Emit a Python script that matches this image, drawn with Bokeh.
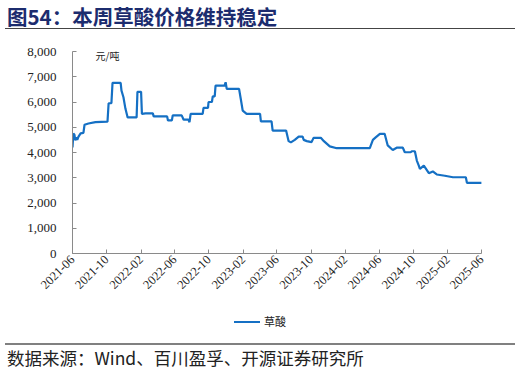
import pandas as pd
from bokeh.plotting import figure
from bokeh.layouts import column
from bokeh.models import (FixedTicker, DatetimeTickFormatter, NumeralTickFormatter,
                          Range1d, ColumnDataSource, Div, AllLabels)
from bokeh.core.properties import value
from bokeh.embed import file_html
from bokeh.resources import INLINE
import math

# ---------------- data ----------------
dates = [
    "2021-06-01", "2021-06-04", "2021-06-08", "2021-06-11", "2021-06-15", "2021-06-18",
    "2021-06-22", "2021-06-30", "2021-07-10", "2021-07-14", "2021-07-28", "2021-08-22",
    "2021-10-04", "2021-10-08", "2021-10-18", "2021-10-22", "2021-11-20", "2021-11-23",
    "2021-11-30", "2021-12-07", "2021-12-15", "2022-01-16", "2022-01-19", "2022-02-01",
    "2022-02-04", "2022-02-17", "2022-03-15", "2022-03-18", "2022-05-05", "2022-05-08",
    "2022-05-22", "2022-05-25", "2022-06-26", "2022-07-03", "2022-07-20", "2022-07-24",
    "2022-07-28", "2022-09-09", "2022-09-12", "2022-09-28", "2022-09-30", "2022-10-12",
    "2022-10-15", "2022-10-22", "2022-10-25", "2022-11-26", "2022-11-30", "2022-12-04",
    "2023-01-17", "2023-01-23", "2023-01-30", "2023-02-13", "2023-04-02", "2023-04-05",
    "2023-05-13", "2023-05-17", "2023-07-04", "2023-07-13", "2023-07-21", "2023-08-04",
    "2023-08-18", "2023-09-01", "2023-09-05", "2023-09-16", "2023-10-03", "2023-10-10",
    "2023-11-05", "2023-11-16", "2023-12-07", "2024-01-01", "2024-04-28", "2024-05-09",
    "2024-05-19", "2024-06-03", "2024-06-20", "2024-07-01", "2024-07-19", "2024-08-02",
    "2024-08-24", "2024-08-31", "2024-09-21", "2024-09-25", "2024-10-06", "2024-10-13",
    "2024-10-20", "2024-10-24", "2024-11-07", "2024-11-25", "2024-12-09", "2024-12-23",
    "2025-01-21", "2025-02-19", "2025-04-06", "2025-04-10", "2025-06-02",
]
prices = [
    4200, 4750, 4700, 4480, 4600, 4500,
    4620, 4760, 4780, 5100, 5150, 5200,
    5220, 5950, 5950, 6760, 6760, 6450,
    6190, 5740, 5390, 5390, 6400, 6400,
    5530, 5550, 5550, 5430, 5430, 5270,
    5270, 5470, 5470, 5300, 5300, 5200,
    5530, 5530, 5770, 5770, 6000, 6000,
    6220, 6220, 6650, 6650, 6780, 6520,
    6520, 6130, 5660, 5530, 5530, 5230,
    5230, 4870, 4870, 4450, 4400, 4500,
    4630, 4630, 4500, 4450, 4410, 4580,
    4580, 4450, 4240, 4170, 4170, 4500,
    4600, 4740, 4740, 4280, 4100, 4190,
    4190, 4010, 4010, 4050, 4050, 3680,
    3480, 3350, 3480, 3180, 3250, 3130,
    3080, 3020, 3020, 2800, 2800,
]
x_tick_labels = ["2021-06", "2021-10", "2022-02", "2022-06", "2022-10", "2023-02", "2023-06",
                 "2023-10", "2024-02", "2024-06", "2024-10", "2025-02", "2025-06"]
y_ticks = [0, 1000, 2000, 3000, 4000, 5000, 6000, 7000, 8000]
series_name = "草酸"
title_text = "图54：本周草酸价格维持稳定"
unit_text = "元/吨"
source_text = "数据来源：Wind、百川盈孚、开源证券研究所"

# ---------------- layout ----------------
W = 521
LINE_COLOR = "#1570C4"
TITLE_H = 32
FIG_TOP = 32
FIG_BOTTOM = 305
FIG_H = FIG_BOTTOM - FIG_TOP
FOOT_H = 374 - FIG_BOTTOM
FRAME_L, FRAME_R, FRAME_T, FRAME_B = 72, 481, 51, 253


def to_ms(s):
    return pd.Timestamp(s).value / 1e6


x_start = to_ms(x_tick_labels[0] + "-01")
x_end = to_ms(x_tick_labels[-1] + "-01")
src = ColumnDataSource(dict(x=[pd.Timestamp(d) for d in dates], y=prices))

p = figure(width=W, height=FIG_H, output_backend="svg", toolbar_location=None,
           x_axis_type="datetime",
           min_border_left=FRAME_L, min_border_right=W - FRAME_R,
           min_border_top=FRAME_T - FIG_TOP, min_border_bottom=FIG_BOTTOM - FRAME_B)
p.x_range = Range1d(x_start, x_end)
p.y_range = Range1d(y_ticks[0], y_ticks[-1])
p.outline_line_color = None
p.xgrid.visible = False
p.ygrid.visible = False
p.background_fill_color = "white"
p.border_fill_color = "white"

r = p.line("x", "y", source=src, line_color=LINE_COLOR, line_width=2.2)

# unit text anchored at the top-left corner of the axes, shifted in pixels
p.text(x=[x_start], y=[y_ticks[-1]], text=[unit_text], x_offset=23, y_offset=4,
       text_font=value("Noto Sans CJK SC"), text_font_size="10px", text_color="#222222",
       text_baseline="middle", text_align="left")

axis_col = "#8a8a8a"
xa = p.xaxis[0]
xa.ticker = FixedTicker(ticks=[to_ms(t + "-01") for t in x_tick_labels])
fmt = "%Y-%m"
xa.formatter = DatetimeTickFormatter(years=fmt, months=fmt, days=fmt, hours=fmt, minutes=fmt,
                                     seconds=fmt, milliseconds=fmt, microseconds=fmt,
                                     minsec=fmt, hourmin=fmt)
xa.major_label_policy = AllLabels()
xa.major_label_orientation = math.pi / 4
xa.major_label_text_font = "Liberation Serif"
xa.major_label_text_font_size = "12.5px"
xa.major_label_text_color = "#222222"
xa.axis_line_color = axis_col
xa.major_tick_line_color = axis_col
xa.major_tick_in = 4
xa.major_tick_out = 0
xa.minor_tick_line_color = None
xa.major_label_standoff = 4

ya = p.yaxis[0]
ya.ticker = FixedTicker(ticks=y_ticks)
ya.formatter = NumeralTickFormatter(format="0,0")
ya.major_label_policy = AllLabels()
ya.major_label_text_font = "Liberation Serif"
ya.major_label_text_font_size = "13px"
ya.major_label_text_color = "#222222"
ya.axis_line_color = axis_col
ya.major_tick_line_color = axis_col
ya.major_tick_in = 4
ya.major_tick_out = 0
ya.minor_tick_line_color = None
ya.major_label_standoff = 16

title_div = Div(
    text=(f'<div style="margin-left:5px;width:510px;height:29px;padding-top:2px;'
          f'border-bottom:1px solid #444444;font-family:\'Noto Sans CJK SC\';font-size:20.5px;'
          f'font-weight:bold;color:#1c2c6e;line-height:29px;white-space:nowrap;">'
          f'<span style="margin-left:2px">{title_text}</span></div>'),
    width=W, height=TITLE_H, margin=0)

foot_div = Div(
    text=(f'<div style="height:20px;margin-top:7px;padding-left:234px;white-space:nowrap;'
          f'display:flex;align-items:center;">'
          f'<span style="display:inline-block;width:26px;height:0;border-top:2.2px solid {LINE_COLOR};"></span>'
          f'<span style="margin-left:4px;font-family:\'Noto Sans CJK SC\';font-size:11px;color:#222222;">'
          f'{series_name}</span></div>'
          f'<div style="margin-left:5px;width:510px;margin-top:11px;border-top:2px solid #808080;'
          f'font-family:\'Noto Sans CJK SC\';font-size:17.5px;color:#222222;line-height:26px;'
          f'white-space:nowrap;"><span style="margin-left:2px">{source_text}</span></div>'),
    width=W, height=FOOT_H, margin=0)

layout = column(title_div, p, foot_div, spacing=0, margin=0)

open("out.html", "w").write(file_html(layout, INLINE))
